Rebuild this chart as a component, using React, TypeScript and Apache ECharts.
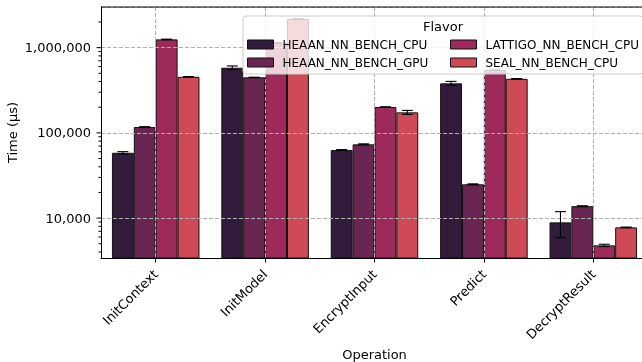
import React, { useEffect, useRef } from "react";
import * as echarts from "echarts";

const categories = ["InitContext", "InitModel", "EncryptInput", "Predict", "DecryptResult"];
const flavors = ["HEAAN_NN_BENCH_CPU", "HEAAN_NN_BENCH_GPU", "LATTIGO_NN_BENCH_CPU", "SEAL_NN_BENCH_CPU"];
const colors = ["#331c3b", "#6a2652", "#9d2a5b", "#cd4a56"];

const heaanCpu = [58400, 581000, 62800, 381000, 8900];
const heaanGpu = [117000, 448000, 73300, 24900, 13800];
const lattigoCpu = [1250000, 1140000, 201000, 546000, 4780];
const sealCpu = [455000, 2170000, 174000, 431000, 7780];

const heaanCpuErr = [1800, 29000, 800, 21000, 3000];
const heaanGpuErr = [1200, 2000, 1000, 300, 150];
const lattigoCpuErr = [8000, 10000, 1500, 5000, 150];
const sealCpuErr = [3000, 8000, 9500, 3000, 60];

const majorTicks = [10000, 100000, 1000000];
const minorTicks = [
  4000, 5000, 6000, 7000, 8000, 9000,
  20000, 30000, 40000, 50000, 60000, 70000, 80000, 90000,
  200000, 300000, 400000, 500000, 600000, 700000, 800000, 900000,
  2000000,
];

const yMin = 3400;
const yMax = 3000000;

const FONT = "DejaVu Sans";

export default function App() {
  const ref = useRef<HTMLDivElement>(null);
  useEffect(() => {
    document.body.style.margin = "0";
    const chart = echarts.init(ref.current!, null, { renderer: "svg" });
    const values = [heaanCpu, heaanGpu, lattigoCpu, sealCpu];
    const errs = [heaanCpuErr, heaanGpuErr, lattigoCpuErr, sealCpuErr];

    const barSeries = flavors.map((name, k) => ({
      name,
      type: "bar",
      data: values[k],
      barGap: "0%",
      barCategoryGap: "20%",
      z: 2,
      itemStyle: { color: colors[k], borderColor: "#111", borderWidth: 1 },
      emphasis: { disabled: true },
    }));

    const errSeries = flavors.map((name, k) => ({
      name: "err_" + name,
      type: "custom",
      silent: true,
      z: 4,
      clip: false,
      encode: { x: 0, y: 1 },
      data: values[k].map((v, i) => [i, v, errs[k][i]]),
      renderItem: (params: any, api: any) => {
        const ci = api.value(0);
        const v = api.value(1);
        const e = api.value(2);
        const bw = params.coordSys.width / categories.length;
        const xc = api.coord([ci, v])[0] + (k - 1.5) * bw * 0.2;
        const yHi = api.coord([ci, v + e])[1];
        const yLo = api.coord([ci, v - e])[1];
        const cap = 5.5;
        const st = { stroke: "#000", lineWidth: 1.1 };
        return {
          type: "group",
          children: [
            { type: "line", shape: { x1: xc, y1: yHi, x2: xc, y2: yLo }, style: st },
            { type: "line", shape: { x1: xc - cap, y1: yHi, x2: xc + cap, y2: yHi }, style: st },
            { type: "line", shape: { x1: xc - cap, y1: yLo, x2: xc + cap, y2: yLo }, style: st },
          ],
        };
      },
    }));

    const tickData = [
      ...majorTicks.map((v) => [0, v, 4.5]),
      ...minorTicks.map((v) => [0, v, 2.6]),
    ];
    const tickSeries = {
      name: "yticks",
      type: "custom",
      silent: true,
      clip: false,
      z: 4,
      encode: { x: 0, y: 1 },
      data: tickData,
      renderItem: (params: any, api: any) => {
        const y = api.coord([0, api.value(1)])[1];
        const len = api.value(2);
        const x0 = params.coordSys.x;
        return {
          type: "line",
          shape: { x1: x0 - len, y1: y, x2: x0, y2: y },
          style: { stroke: "#000", lineWidth: 1 },
        };
      },
    };

    const legendCommon = {
      orient: "vertical",
      top: 37.5,
      padding: 0,
      itemWidth: 26,
      itemHeight: 9,
      itemGap: 4,
      icon: "rect",
      z: 6,
      selectedMode: false,
      itemStyle: { borderColor: "#111", borderWidth: 1 },
      textStyle: { fontFamily: FONT, fontSize: 12, color: "#000", lineHeight: 14, padding: [0, 0, 0, 4] },
    };

    chart.setOption({
      animation: false,
      grid: {
        left: 101,
        right: -6,
        top: 7,
        bottom: 104,
        show: false,
        containLabel: false,
        outerBoundsMode: "none",
      },
      legend: [
        { ...legendCommon, left: 247, data: [flavors[0], flavors[1]] },
        { ...legendCommon, left: 450, data: [flavors[2], flavors[3]] },
      ],
      graphic: [
        {
          type: "line",
          z: 4,
          shape: { x1: 101, y1: 7, x2: 642, y2: 7 },
          style: { stroke: "#000", lineWidth: 1 },
        },
        {
          type: "rect",
          z: 5,
          shape: { x: 243, y: 16, width: 400, height: 58, r: 3 },
          style: { fill: "rgba(255,255,255,0.8)", stroke: "#cccccc", lineWidth: 1 },
        },
        {
          type: "text",
          z: 6,
          x: 443,
          y: 26,
          style: { text: "Flavor", fontFamily: FONT, fontSize: 13, fill: "#000", align: "center", verticalAlign: "middle" },
        },
      ],
      xAxis: {
        type: "category",
        data: categories,
        z: 3,
        axisLine: { show: true, lineStyle: { color: "#000", width: 1 } },
        axisTick: { show: true, alignWithLabel: true, length: 4.5, lineStyle: { color: "#000" } },
        axisLabel: { rotate: 45, fontFamily: FONT, fontSize: 13, color: "#000", margin: 14 },
        splitLine: { show: true, alignWithLabel: true, lineStyle: { color: "#b0b0b0", type: [4, 2], width: 1 } },
        name: "Operation",
        nameLocation: "middle",
        nameGap: 90,
        nameMoveOverlap: false,
        nameTextStyle: { fontFamily: FONT, fontSize: 13, color: "#000" },
      },
      yAxis: {
        type: "log",
        logBase: 10,
        min: yMin,
        max: yMax,
        z: 3,
        axisLine: { show: true, lineStyle: { color: "#000", width: 1 } },
        axisTick: { show: false },
        axisLabel: {
          fontFamily: FONT,
          fontSize: 13,
          color: "#000",
          margin: 10,
          showMinLabel: false,
          showMaxLabel: false,
          formatter: (v: number) => (majorTicks.some((m) => Math.abs(m - v) / m < 1e-6) ? Math.round(v).toLocaleString("en-US") : ""),
        },
        splitLine: { show: true, lineStyle: { color: "#b0b0b0", type: [4, 2], width: 1 } },
        name: "Time (µs)",
        nameLocation: "middle",
        nameGap: 82,
        nameMoveOverlap: false,
        nameTextStyle: { fontFamily: FONT, fontSize: 13, color: "#000" },
      },
      series: [...barSeries, ...errSeries, tickSeries],
    });

    return () => chart.dispose();
  }, []);
  return (
    <div
      ref={ref}
      style={{ position: "fixed", left: 0, top: 0, width: 642, height: 362 }}
    />
  );
}
